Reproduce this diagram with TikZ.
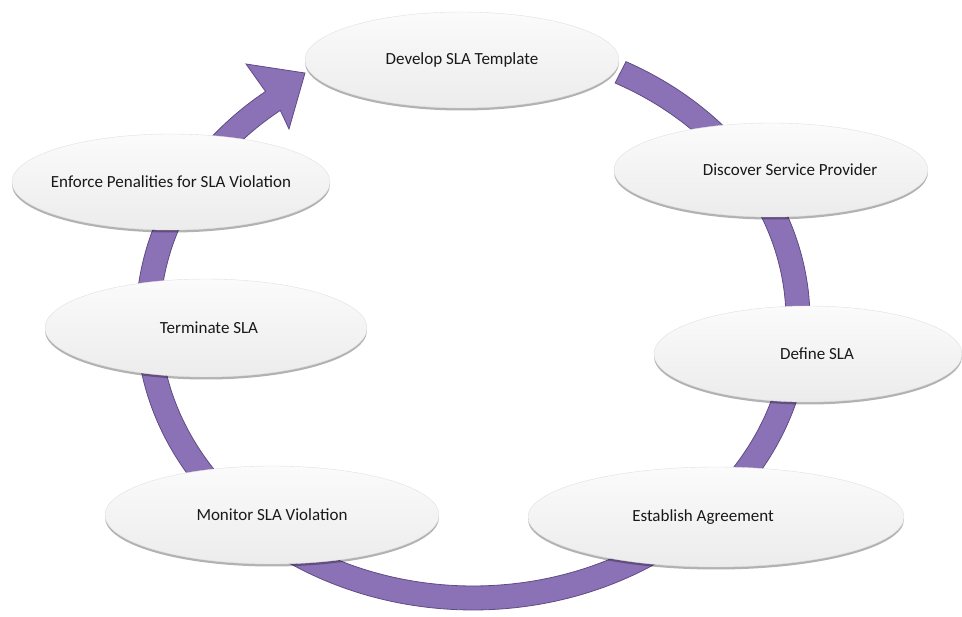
\documentclass[tikz,border=0pt]{standalone}
\usepackage{fontspec}
\setmainfont{Carlito}
\usetikzlibrary{shapes.geometric,shadows}
\definecolor{ringfill}{RGB}{139,113,181}
\definecolor{ringedge}{RGB}{96,76,132}
\definecolor{bubtop}{RGB}{251,251,251}
\definecolor{bubbot}{RGB}{236,236,236}
\definecolor{bubedge}{RGB}{224,224,224}
\definecolor{labeltext}{RGB}{25,25,25}
% label set in a zero-width box so the ellipse keeps its given size
\newcommand{\stagetext}[2][0pt]{\makebox[0pt]{\hspace*{#1}#2}}
\tikzset{
  bubble/.style={ellipse, inner sep=0pt, draw=bubedge, line width=0.4pt,
    top color=bubtop, bottom color=bubbot, text=labeltext,
    font=\fontsize{17}{20}\selectfont,
    drop shadow={shadow xshift=0pt, shadow yshift=-2.5pt, fill=black, opacity=0.3}},
  ring/.style={fill=ringfill, draw=ringedge, line width=0.8pt, line join=miter}
}
\begin{document}
\begin{tikzpicture}[x=1pt, y=-1pt]
  \useasboundingbox (0,0) rectangle (962,617);
  % cycle ring: elliptical band running clockwise, ending in an arrow head
  \coordinate (headL) at (246,64);
  \coordinate (headT) at (305,73);
  \coordinate (headR) at (289,129);
  \path[ring]
    plot[domain=-63:232, samples=120, smooth] ({473+337*cos(\x)},{320+290*sin(\x)})
    -- (headL) -- (headT) -- (headR)
    -- plot[domain=232:-63, samples=120, smooth] ({473+313*cos(\x)},{320+266*sin(\x)})
    -- cycle;
  % stages of the cycle
  \node[bubble, minimum width=314pt, minimum height=96pt] (dev)  at (462,60)  {\stagetext{Develop SLA Template}};
  \node[bubble, minimum width=314pt, minimum height=94pt] (disc) at (771,170) {\stagetext[38pt]{Discover Service Provider}};
  \node[bubble, minimum width=308pt, minimum height=96pt] (def)  at (808,354) {\stagetext[18pt]{Define SLA}};
  \node[bubble, minimum width=376pt, minimum height=100pt] (est) at (716,517) {\stagetext[-26pt]{Establish Agreement}};
  \node[bubble, minimum width=334pt, minimum height=98pt] (mon)  at (272,515) {\stagetext{Monitor SLA Violation}};
  \node[bubble, minimum width=322pt, minimum height=98pt] (term) at (206,328) {\stagetext[6pt]{Terminate SLA}};
  \node[bubble, minimum width=318pt, minimum height=96pt] (enf)  at (171,182) {\stagetext{Enforce Penalities for SLA Violation}};
\end{tikzpicture}
\end{document}
